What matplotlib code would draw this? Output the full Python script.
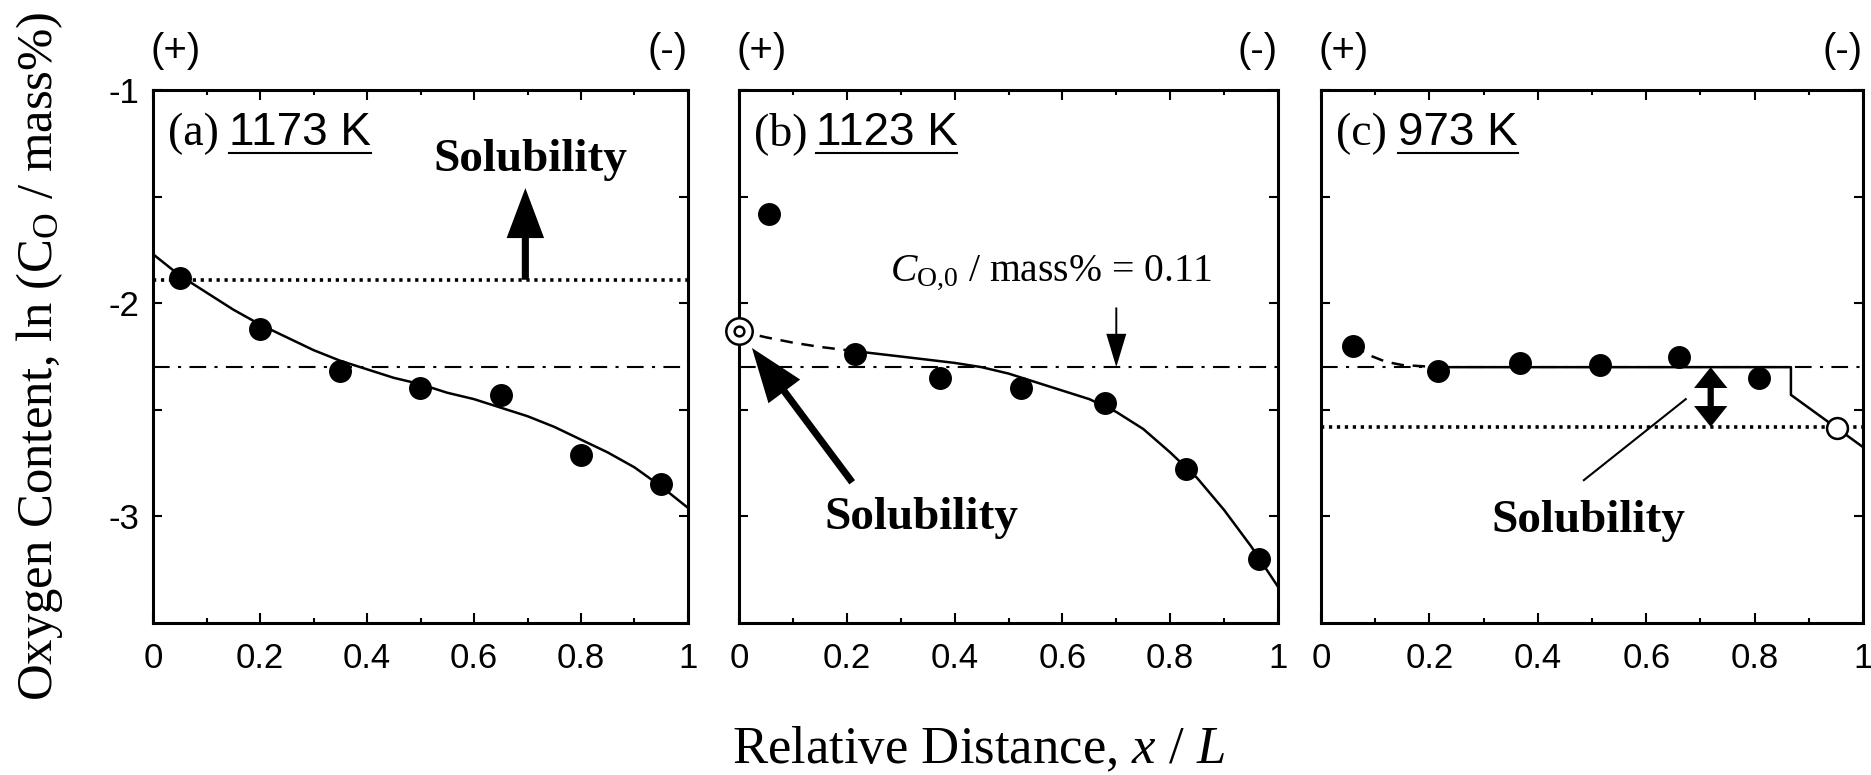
import numpy as np
import matplotlib
matplotlib.use("Agg")
import matplotlib.pyplot as plt
from matplotlib.ticker import MultipleLocator, FixedLocator

# ---- data: ln(C_O / mass%) against relative distance x/L ----
# (a) 1173 K
xa_pts = [0.05, 0.20, 0.35, 0.50, 0.65, 0.80, 0.95]
ya_pts = [-1.88, -2.12, -2.32, -2.40, -2.43, -2.71, -2.85]
xa_fit = [0.0, 0.05, 0.1, 0.15, 0.2, 0.25, 0.3, 0.35, 0.4, 0.45, 0.5,
          0.55, 0.6, 0.65, 0.7, 0.75, 0.8, 0.85, 0.9, 0.95, 1.0]
ya_fit = [-1.77, -1.87, -1.95, -2.03, -2.10, -2.16, -2.22, -2.27, -2.31, -2.35, -2.38,
          -2.42, -2.45, -2.49, -2.53, -2.58, -2.64, -2.70, -2.77, -2.86, -2.96]
sol_a = -1.89

# (b) 1123 K
xb_pts = [0.055, 0.215, 0.373, 0.523, 0.679, 0.830, 0.965]
yb_pts = [-1.58, -2.24, -2.35, -2.40, -2.47, -2.78, -3.20]
xb_surf, yb_surf = 0.0, -2.13
xb_dash = [0.0, 0.05, 0.1, 0.15, 0.215]
yb_dash = [-2.13, -2.16, -2.185, -2.205, -2.225]
xb_fit = [0.215, 0.3, 0.4, 0.45, 0.5, 0.55, 0.6, 0.65, 0.7, 0.75, 0.8, 0.85, 0.9, 0.95, 1.0]
yb_fit = [-2.225, -2.25, -2.28, -2.30, -2.33, -2.37, -2.41, -2.45, -2.51, -2.59, -2.70,
          -2.82, -2.97, -3.14, -3.33]

# (c) 973 K
xc_pts = [0.059, 0.216, 0.367, 0.515, 0.660, 0.808]
yc_pts = [-2.20, -2.32, -2.28, -2.29, -2.25, -2.35]
xc_open, yc_open = 0.952, -2.585
xc_dash = [0.059, 0.09, 0.12, 0.15, 0.216]
yc_dash = [-2.20, -2.245, -2.275, -2.29, -2.30]
xc_fit = [0.216, 0.867, 0.867, 1.0]
yc_fit = [-2.30, -2.30, -2.43, -2.675]
sol_c = -2.58

c_init = -2.30   # ln of initial content, C_O,0 = 0.11 mass%

temps = ["1173 K", "1123 K", "973 K"]
tags = ["(a)", "(b)", "(c)"]
xticks = [0, 0.2, 0.4, 0.6, 0.8, 1.0]
xticklabels = ["0", "0.2", "0.4", "0.6", "0.8", "1"]
yticks = [-1, -1.5, -2, -2.5, -3]
yticklabels = ["-1", "", "-2", "", "-3"]

plt.rcParams['font.family'] = ['Liberation Sans', 'DejaVu Sans']
plt.rcParams['mathtext.fontset'] = 'custom'
plt.rcParams['mathtext.rm'] = 'Liberation Serif'
plt.rcParams['mathtext.it'] = 'Liberation Serif:italic'
plt.rcParams['mathtext.bf'] = 'Liberation Serif:bold'

SERIF = 'Liberation Serif'
DOT = (0, (0.9, 1.3))
DASHDOT = (0, (8, 4, 1.5, 4))
DASH = (0, (5, 3.5))

fig = plt.figure(figsize=(18.71, 7.75), dpi=100)
lefts = [153 / 1871, 739 / 1871, 1321 / 1871]
widths = [535 / 1871, 539 / 1871, 542 / 1871]
axes = [fig.add_axes([l, 1 - 623 / 775, w, 533 / 775]) for l, w in zip(lefts, widths)]


def setup(ax, labels):
    ax.set_xlim(0, 1)
    ax.set_ylim(-3.5, -1)
    ax.xaxis.set_major_locator(FixedLocator(xticks))
    ax.xaxis.set_minor_locator(MultipleLocator(0.1))
    ax.set_xticklabels(xticklabels)
    ax.set_yticks(yticks)
    if labels:
        ax.set_yticklabels(yticklabels)
    else:
        ax.set_yticklabels([])
    ax.tick_params(which='both', direction='in', top=True, right=True, width=1.5,
                   labelsize=25)
    ax.tick_params(axis='x', which='major', length=7, pad=14)
    ax.tick_params(axis='x', which='minor', length=3.5)
    ax.tick_params(axis='y', which='major', length=6.5, pad=10)
    for s in ax.spines.values():
        s.set_linewidth(2.2)
    ax.text(-0.005, 1.073, "(+)", transform=ax.transAxes, ha='left', va='center',
            fontsize=29)
    ax.text(1.0, 1.073, "(-)", transform=ax.transAxes, ha='right', va='center',
            fontsize=29)


mk = dict(marker='o', color='black', markersize=15.5, linestyle='none', zorder=5)
labels_txt = []

for i, ax in enumerate(axes):
    setup(ax, i == 0)
    ax.text(0.028, -1.26, tags[i], family=SERIF, fontsize=33, va='baseline')
    t = ax.text(0.142, -1.26, temps[i], fontsize=33, va='baseline')
    labels_txt.append((ax, t))

# (a)
ax = axes[0]
ax.axhline(sol_a, color='black', lw=2.6, linestyle=DOT)
ax.axhline(c_init, color='black', lw=1.5, linestyle=DASHDOT)
ax.plot(xa_fit, ya_fit, color='black', lw=1.8)
ax.plot(xa_pts, ya_pts, **mk)
ax.annotate('', xy=(0.696, -1.46), xytext=(0.696, sol_a),
            arrowprops=dict(arrowstyle='simple,head_length=1.2,head_width=0.9,tail_width=0.17',
                            fc='black', ec='black', lw=0, shrinkA=0, shrinkB=0,
                            mutation_scale=30))
ax.text(0.705, -1.38, "Solubility", family=SERIF, weight='bold', fontsize=34,
        ha='center', va='baseline')

# (b)
ax = axes[1]
ax.axhline(c_init, color='black', lw=1.5, linestyle=DASHDOT)
ax.plot(xb_dash, yb_dash, color='black', lw=1.8, linestyle=DASH)
ax.plot(xb_fit, yb_fit, color='black', lw=1.8)
ax.plot(xb_pts, yb_pts, **mk)
ax.plot([xb_surf], [yb_surf], marker='o', markersize=19, mfc='white', mec='black',
        mew=1.8, linestyle='none', zorder=6, clip_on=False)
ax.plot([xb_surf], [yb_surf], marker='o', markersize=7, mfc='white', mec='black',
        mew=1.8, linestyle='none', zorder=7, clip_on=False)
ax.annotate('', xy=(0.024, -2.21), xytext=(0.21, -2.84),
            arrowprops=dict(arrowstyle='simple,head_length=1.3,head_width=0.95,tail_width=0.17',
                            fc='black', ec='black', lw=0, shrinkA=0, shrinkB=0,
                            mutation_scale=30))
ax.text(0.338, -3.06, "Solubility", family=SERIF, weight='bold', fontsize=34,
        ha='center', va='baseline')
ax.text(0.579, -1.89, r"$C_{\mathrm{O{,}0}}$ / mass% = 0.11", family=SERIF, fontsize=28.5,
        ha='center', va='baseline')
ax.annotate('', xy=(0.70, c_init), xytext=(0.70, -2.02),
            arrowprops=dict(arrowstyle='simple,head_length=0.6,head_width=0.36,tail_width=0.035',
                            fc='black', ec='black', lw=0, shrinkA=0, shrinkB=0,
                            mutation_scale=40))

# (c)
ax = axes[2]
ax.axhline(sol_c, color='black', lw=2.6, linestyle=DOT)
ax.axhline(c_init, color='black', lw=1.5, linestyle=DASHDOT)
ax.plot(xc_dash, yc_dash, color='black', lw=1.8, linestyle=DASH)
ax.plot(xc_fit, yc_fit, color='black', lw=1.8)
ax.plot(xc_pts, yc_pts, **mk)
ax.plot([xc_open], [yc_open], marker='o', markersize=15, mfc='white', mec='black',
        mew=1.8, linestyle='none', zorder=6)
mid = (c_init + sol_c) / 2
for end in (c_init, sol_c):
    ax.annotate('', xy=(0.719, end), xytext=(0.719, mid),
                arrowprops=dict(arrowstyle='simple,head_length=0.5,head_width=0.8,tail_width=0.15',
                                fc='black', ec='black', lw=0, shrinkA=0, shrinkB=0,
                                mutation_scale=30))
ax.plot([0.485, 0.673], [-2.83, -2.45], color='black', lw=1.5)
ax.text(0.493, -3.075, "Solubility", family=SERIF, weight='bold', fontsize=34,
        ha='center', va='baseline')

fig.text(40 / 1871, 0.540, r"Oxygen Content, ln (C$_{\mathrm{O}}$ / mass%)", family=SERIF,
         fontsize=36.5, rotation=90, ha='center', va='center')
fig.text(979 / 1871, 12 / 775, r"Relative Distance, $x$ / $L$", family=SERIF,
         fontsize=38, ha='center', va='baseline')

# underline the temperature labels
fig.canvas.draw()
renderer = fig.canvas.get_renderer()
for ax, t in labels_txt:
    bb = t.get_window_extent(renderer).transformed(ax.transData.inverted())
    ax.plot([bb.x0, bb.x1], [-1.295, -1.295], color='black', lw=1.5)

fig.savefig("out.png", dpi=100)
